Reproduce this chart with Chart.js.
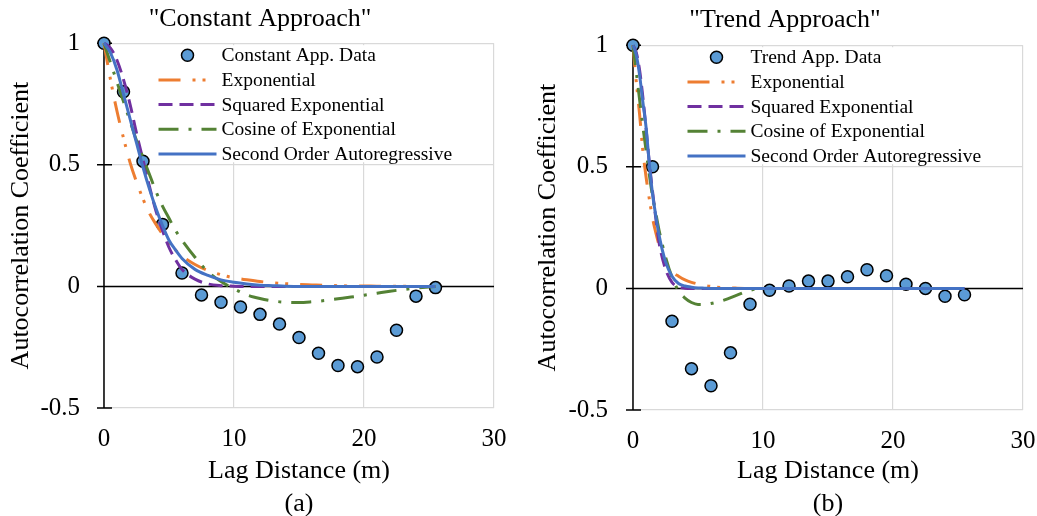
<!DOCTYPE html>
<html>
<head>
<meta charset="utf-8">
<script src="https://cdn.jsdelivr.net/npm/chart.js@4.4.0/dist/chart.umd.min.js"></script>
<style>
  html, body { margin: 0; padding: 0; background: #fff; overflow: hidden; }
  #wrap { position: relative; width: 1037px; height: 516px; }
  canvas { position: absolute; top: 0; }
</style>
</head>
<body>
<div id="wrap">
  <canvas id="chartA" width="520" height="516" style="left:0px"></canvas>
  <canvas id="chartB" width="517" height="516" style="left:520px"></canvas>
</div>
<script>
// --- measured data (lag step 1.5 m) ---
const lagDistance = [0, 1.5, 3, 4.5, 6, 7.5, 9, 10.5, 12, 13.5, 15, 16.5, 18, 19.5, 21, 22.5, 24, 25.5];
const constantData = [1, 0.80, 0.515, 0.255, 0.055, -0.035, -0.065, -0.085, -0.115, -0.155, -0.21, -0.275, -0.325, -0.33, -0.29, -0.18, -0.04, -0.005];
const trendData = [1, 0.50, -0.135, -0.33, -0.40, -0.265, -0.065, -0.008, 0.01, 0.03, 0.03, 0.048, 0.077, 0.052, 0.017, 0.0, -0.032, -0.026];

// --- fitted model curves ---
const constCurveX = [0, 0.5, 1, 1.5, 2, 2.5, 3, 3.5, 4, 4.5, 5, 5.5, 6, 7, 8, 9, 10, 11, 12, 13, 14, 15, 16, 17, 18, 19, 20, 21, 22, 23, 24, 25.5];
const constExp = [1, 0.85, 0.72, 0.61, 0.51, 0.43, 0.36, 0.30, 0.255, 0.215, 0.18, 0.15, 0.125, 0.09, 0.065, 0.048, 0.035, 0.027, 0.02, 0.015, 0.011, 0.008, 0.006, 0.004, 0.003, 0.002, 0.002, 0.001, 0.001, 0.001, 0, 0];
const constSqExp = [1, 0.98, 0.93, 0.85, 0.75, 0.63, 0.52, 0.41, 0.31, 0.23, 0.16, 0.11, 0.07, 0.03, 0.01, 0.003, 0.001, 0, 0, 0, 0, 0, 0, 0, 0, 0, 0, 0, 0, 0, 0, 0];
const constCosExp = [1, 0.92, 0.84, 0.76, 0.68, 0.60, 0.53, 0.46, 0.39, 0.33, 0.28, 0.23, 0.19, 0.12, 0.06, 0.02, -0.01, -0.035, -0.05, -0.06, -0.065, -0.066, -0.063, -0.058, -0.051, -0.044, -0.036, -0.028, -0.02, -0.013, -0.007, 0];
const constAR2 = [1, 0.96, 0.89, 0.79, 0.69, 0.59, 0.49, 0.40, 0.32, 0.25, 0.19, 0.15, 0.115, 0.07, 0.045, 0.027, 0.017, 0.01, 0.005, 0.003, 0.001, 0, 0, 0, 0, 0, 0, 0, 0, 0, 0, 0];

const trendCurveX = [0, 0.25, 0.5, 0.75, 1, 1.25, 1.5, 1.75, 2, 2.5, 3, 3.5, 4, 4.5, 5, 5.5, 6, 7, 8, 9, 10, 12, 15, 20, 25.5];
const trendExp = [1, 0.85, 0.72, 0.57, 0.46, 0.37, 0.29, 0.23, 0.18, 0.11, 0.07, 0.05, 0.035, 0.025, 0.018, 0.012, 0.008, 0.003, 0.001, 0, 0, 0, 0, 0, 0];
const trendSqExp = [1, 0.97, 0.90, 0.79, 0.66, 0.52, 0.40, 0.29, 0.19, 0.08, 0.025, 0.006, 0.001, 0, 0, 0, 0, 0, 0, 0, 0, 0, 0, 0, 0];
const trendCosExp = [1, 0.89, 0.78, 0.67, 0.57, 0.47, 0.38, 0.31, 0.24, 0.13, 0.046, -0.01, -0.04, -0.058, -0.066, -0.066, -0.062, -0.048, -0.028, -0.008, 0, 0, 0, 0, 0];
const trendAR2 = [1, 0.96, 0.88, 0.77, 0.665, 0.515, 0.39, 0.30, 0.22, 0.11, 0.05, 0.02, 0.01, 0.005, 0.002, 0.001, 0, 0, 0, 0, 0, 0, 0, 0, 0];

const xTicks = [0, 10, 20, 30];
const yTicks = [-0.5, 0, 0.5, 1];

const SERIF = "'Liberation Serif', 'Times New Roman', serif";
const COLORS = {
    data: '#5B9BD5',
    exp: '#ED7D31',
    sqExp: '#7030A0',
    cosExp: '#548235',
    ar2: '#4472C4',
    grid: '#d9d9d9'
};

Chart.defaults.font.family = SERIF;
Chart.defaults.color = '#000';

const pairs = (xs, ys) => xs.map((x, i) => ({ x: x, y: ys[i] }));

// black axis lines at x=0 / y=0 with crossing tick marks
const axisLines = {
    id: 'axisLines',
    beforeDatasetsDraw(chart) {
        const { ctx, chartArea, scales: { x, y } } = chart;
        const x0 = x.getPixelForValue(0);
        const y0 = y.getPixelForValue(0);
        ctx.save();
        ctx.strokeStyle = '#000';
        ctx.lineWidth = 1.5;
        ctx.beginPath();
        ctx.moveTo(x0, y.getPixelForValue(1));
        ctx.lineTo(x0, y.getPixelForValue(-0.5));
        ctx.moveTo(x0 - 7, y0);
        ctx.lineTo(chartArea.right, y0);
        yTicks.forEach(v => {
            const p = y.getPixelForValue(v);
            ctx.moveTo(x0 - 7, p);
            ctx.lineTo(x0 + 8, p);
        });
        ctx.stroke();
        ctx.restore();
    }
};

// legend box inside the plot, Excel style
const boxLegend = {
    id: 'boxLegend',
    afterDatasetsDraw(chart) {
        const { ctx, chartArea } = chart;
        const L = chartArea.left, T = chartArea.top;
        ctx.save();
        ctx.fillStyle = '#fff';
        ctx.fillRect(L + 51, T + 2, 305, 117);
        chart.data.datasets.forEach((ds, i) => {
            const cy = T + 12 + i * 24.7;
            const x1 = L + 54.5, x2 = L + 112.5;
            if (!ds.showLine) {
                ctx.beginPath();
                ctx.arc((x1 + x2) / 2, cy, 6, 0, Math.PI * 2);
                ctx.fillStyle = ds.pointBackgroundColor;
                ctx.fill();
                ctx.lineWidth = 1.5;
                ctx.strokeStyle = '#000';
                ctx.stroke();
            } else {
                ctx.beginPath();
                ctx.setLineDash(ds.borderDash || []);
                ctx.lineWidth = ds.borderWidth;
                ctx.strokeStyle = ds.borderColor;
                ctx.moveTo(x1, cy);
                ctx.lineTo(x2, cy);
                ctx.stroke();
                ctx.setLineDash([]);
            }
            ctx.fillStyle = '#000';
            ctx.font = '19.5px ' + SERIF;
            ctx.textBaseline = 'middle';
            ctx.textAlign = 'left';
            ctx.fillText(ds.label, L + 117.5, cy + 1);
        });
        ctx.restore();
    }
};

const curve = (label, xs, ys, color, dash, order) => ({
    label: label,
    data: pairs(xs, ys),
    showLine: true,
    borderColor: color,
    borderWidth: 3,
    borderDash: dash,
    pointRadius: 0,
    cubicInterpolationMode: 'monotone',
    clip: false,
    order: order
});

const makeChart = (id, cfg) => {
    const canvas = document.getElementById(id);
    return new Chart(canvas.getContext('2d'), {
        type: 'scatter',
        data: {
            datasets: [
                {
                    label: cfg.dataLabel,
                    data: pairs(lagDistance, cfg.data),
                    showLine: false,
                    pointRadius: 6,
                    pointBorderWidth: 1.5,
                    pointBorderColor: '#000',
                    pointBackgroundColor: COLORS.data,
                    clip: false,
                    order: 5
                },
                curve('Exponential', cfg.curveX, cfg.exp, COLORS.exp, [22, 12, 3, 7, 3, 12], 4),
                curve('Squared Exponential', cfg.curveX, cfg.sqExp, COLORS.sqExp, [14, 7], 3),
                curve('Cosine of Exponential', cfg.curveX, cfg.cosExp, COLORS.cosExp, [20, 10, 3, 10], 2),
                curve('Second Order Autoregressive', cfg.curveX, cfg.ar2, COLORS.ar2, [], 1)
            ]
        },
        options: {
            responsive: false,
            animation: false,
            events: [],
            layout: { padding: { left: cfg.padLeft, right: 0, top: 0, bottom: 0 } },
            plugins: {
                legend: { display: false },
                tooltip: { enabled: false },
                title: {
                    display: true,
                    text: cfg.title,
                    color: '#000',
                    font: { size: 26, weight: 'normal', family: SERIF, lineHeight: 1.2 },
                    padding: { top: cfg.titleTop, bottom: cfg.titleBottom }
                }
            },
            scales: {
                x: {
                    type: 'linear',
                    min: 0,
                    max: 30,
                    afterBuildTicks: s => { s.ticks = xTicks.map(v => ({ value: v })); },
                    ticks: { font: { size: 25, lineHeight: 1.2 }, color: '#000', padding: cfg.xTickPad, maxRotation: 0, callback: v => String(v) },
                    grid: { color: COLORS.grid, lineWidth: 1.2, drawTicks: false },
                    border: { display: false },
                    title: {
                        display: true,
                        text: ['Lag Distance (m)', cfg.panel],
                        color: '#000',
                        font: { size: 26, lineHeight: 1.27 },
                        padding: { top: 0, bottom: cfg.xTitleBottom }
                    },
                    afterFit: s => { s.height = cfg.xHeight; s.paddingRight = cfg.padRight; }
                },
                y: {
                    type: 'linear',
                    min: -0.5,
                    max: 1,
                    afterBuildTicks: s => { s.ticks = yTicks.map(v => ({ value: v })); },
                    ticks: { font: { size: 25, lineHeight: 1.2 }, color: '#000', padding: cfg.yTickPad, callback: v => String(v) },
                    grid: { color: COLORS.grid, lineWidth: 1.2, drawTicks: false },
                    border: { display: false },
                    title: {
                        display: true,
                        text: 'Autocorrelation Coefficient',
                        color: '#000',
                        font: { size: 26, lineHeight: 1.2 },
                        padding: { top: cfg.yTitleTop, bottom: 0 }
                    },
                    afterFit: s => { s.width = cfg.yWidth; }
                }
            }
        },
        plugins: [axisLines, boxLegend]
    });
};

makeChart('chartA', {
    title: '"Constant Approach"',
    panel: '(a)',
    dataLabel: 'Constant App. Data',
    data: constantData,
    curveX: constCurveX,
    exp: constExp, sqExp: constSqExp, cosExp: constCosExp, ar2: constAR2,
    padLeft: 0, padRight: 26, yWidth: 104,
    titleTop: 4, titleBottom: 8,
    xHeight: 108, xTickPad: 16, xTitleBottom: -5,
    yTickPad: 24, yTitleTop: 6
});

makeChart('chartB', {
    title: '"Trend Approach"',
    panel: '(b)',
    dataLabel: 'Trend App. Data',
    data: trendData,
    curveX: trendCurveX,
    exp: trendExp, sqExp: trendSqExp, cosExp: trendCosExp, ar2: trendAR2,
    padLeft: 13, padRight: 14, yWidth: 100,
    titleTop: 5, titleBottom: 9,
    xHeight: 106, xTickPad: 16, xTitleBottom: -5,
    yTickPad: 25, yTitleTop: 0
});
</script>
</body>
</html>
